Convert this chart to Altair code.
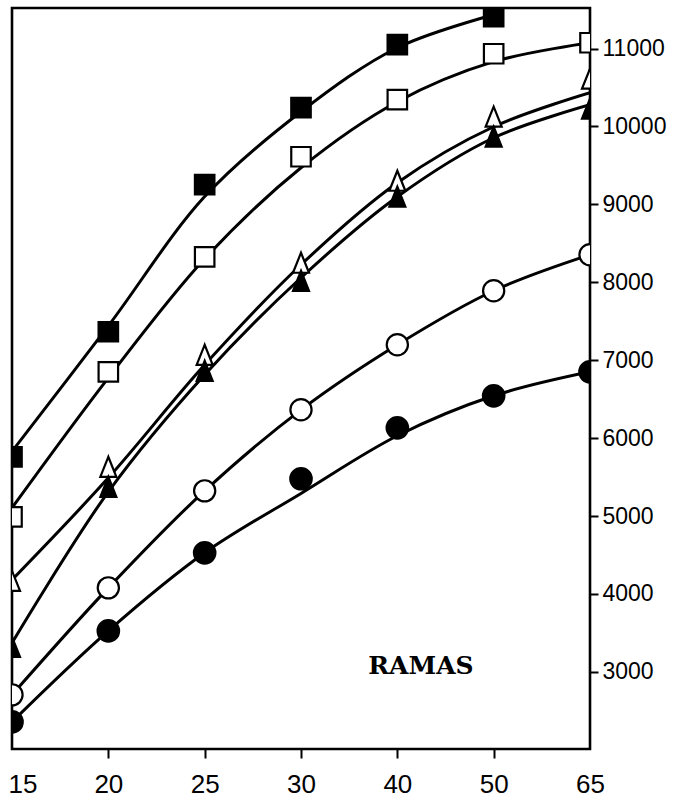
import altair as alt
import pandas as pd

# x categories (age classes)
ages = ["15", "20", "25", "30", "40", "50", "65"]

# marker values (None = not drawn)
fsq_pts = [5760, 7365, 9252, 10241, 11049, 11408, None]
osq_pts = [4990, 6851, 8327, 9611, 10343, 10933, 11074]
otri_pts = [4155, 5619, 7056, 8238, 9290, 10112, 10600]
ftri_pts = [3308, 5362, 6851, 8006, 9085, 9855, 10214]
ocir_pts = [2705, 4078, 5323, 6363, 7198, 7891, 8353]
fcir_pts = [2358, 3526, 4528, 5478, 6132, 6543, 6851]

# smooth fitted curves at each class (None = curve ends)
fsq_curve = [5830, 7440, 9100, 10189, 11010, 11434, None]
osq_curve = [5105, 6774, 8302, 9470, 10317, 10831, 11074]
otri_curve = [4181, 5490, 6941, 8225, 9277, 9996, 10433]
ftri_curve = [3372, 5311, 6813, 8058, 9098, 9855, 10279]
ocir_curve = [2705, 4078, 5323, 6363, 7198, 7891, 8353]
fcir_curve = [2358, 3526, 4528, 5290, 6030, 6543, 6851]

y_ticks = [3000, 4000, 5000, 6000, 7000, 8000, 9000, 10000, 11000]
label_text = ["RAMAS"]

TRI = "M0,-1.1L-0.8,0.9L0.8,0.9Z"
series = [
    ("otri", otri_pts, otri_curve, TRI, False, 400),
    ("ftri", ftri_pts, ftri_curve, TRI, True, 400),
    ("fsq", fsq_pts, fsq_curve, "square", True, 380),
    ("osq", osq_pts, osq_curve, "square", False, 380),
    ("ocir", ocir_pts, ocir_curve, "circle", False, 450),
    ("fcir", fcir_pts, fcir_curve, "circle", True, 460),
]

rows = []
for name, pts, curve, shape, filled, size in series:
    for a, p, c in zip(ages, pts, curve):
        rows.append({"s": name, "age": a, "pt": p, "curve": c})
df = pd.DataFrame(rows)

Y_DOMAIN = [2010, 11520]
x_scale = alt.Scale(type="point", padding=0)
y_scale = alt.Scale(domain=Y_DOMAIN, zero=False, nice=False)

x_enc = alt.X(
    "age:O",
    sort=ages,
    scale=x_scale,
    axis=alt.Axis(
        title=None,
        domain=False,
        grid=False,
        labelAngle=0,
        labelFont="Liberation Sans",
        labelFontSize=26,
        labelColor="black",
        labelPadding=13,
        labelAlign={"condition": {"test": "datum.value == '15'", "value": "left"}, "value": "center"},
        labelOffset={"condition": {"test": "datum.value == '15'", "value": -4}, "value": 0},
        tickSize=9,
        tickWidth=2,
        tickColor={"condition": {"test": "datum.value == '15' || datum.value == '65'", "value": "transparent"}, "value": "black"},
    ),
)

y_axis = alt.Axis(
    orient="right",
    title=None,
    domain=False,
    grid=False,
    values=y_ticks,
    format="d",
    labelFont="Liberation Sans",
    labelFontSize=23,
    labelColor="black",
    labelPadding=4,
    tickSize=8,
    tickWidth=2,
    tickColor="black",
)

base = alt.Chart(df)

lines = base.transform_filter("datum.curve != null").mark_line(
    color="black", strokeWidth=3, interpolate="catmull-rom", clip=True
).encode(
    x=x_enc,
    y=alt.Y("curve:Q", scale=y_scale, axis=y_axis),
    detail="s:N",
)

layers = [lines]
for name, pts, curve, shape, filled, size in series:
    layers.append(
        base.transform_filter(f"datum.s == '{name}' && datum.pt != null")
        .mark_point(
            shape=shape,
            size=size,
            filled=True,
            fill="black" if filled else "white",
            stroke="black",
            strokeWidth=2.2,
            opacity=1,
            clip=True,
        )
        .encode(
            x=alt.X("age:O", sort=ages, scale=x_scale),
            y=alt.Y("pt:Q", scale=y_scale),
        )
    )

text = alt.Chart(pd.DataFrame({"t": label_text})).mark_text(
    font="DejaVu Serif",
    fontWeight="bold",
    fontSize=25,
    color="black",
    align="center",
    baseline="middle",
).encode(text="t:N", x=alt.value(409), y=alt.value(658))
layers.append(text)

chart = (
    alt.layer(*layers)
    .properties(
        width=578,
        height=741,
        padding={"left": 12, "top": 8, "right": 86, "bottom": 55},
        autosize=alt.AutoSizeParams(type="none"),
        background="white",
    )
    .configure_view(stroke="black", strokeWidth=2.6)
)

chart.save("out.html", embed_options={"renderer": "svg", "actions": False})
